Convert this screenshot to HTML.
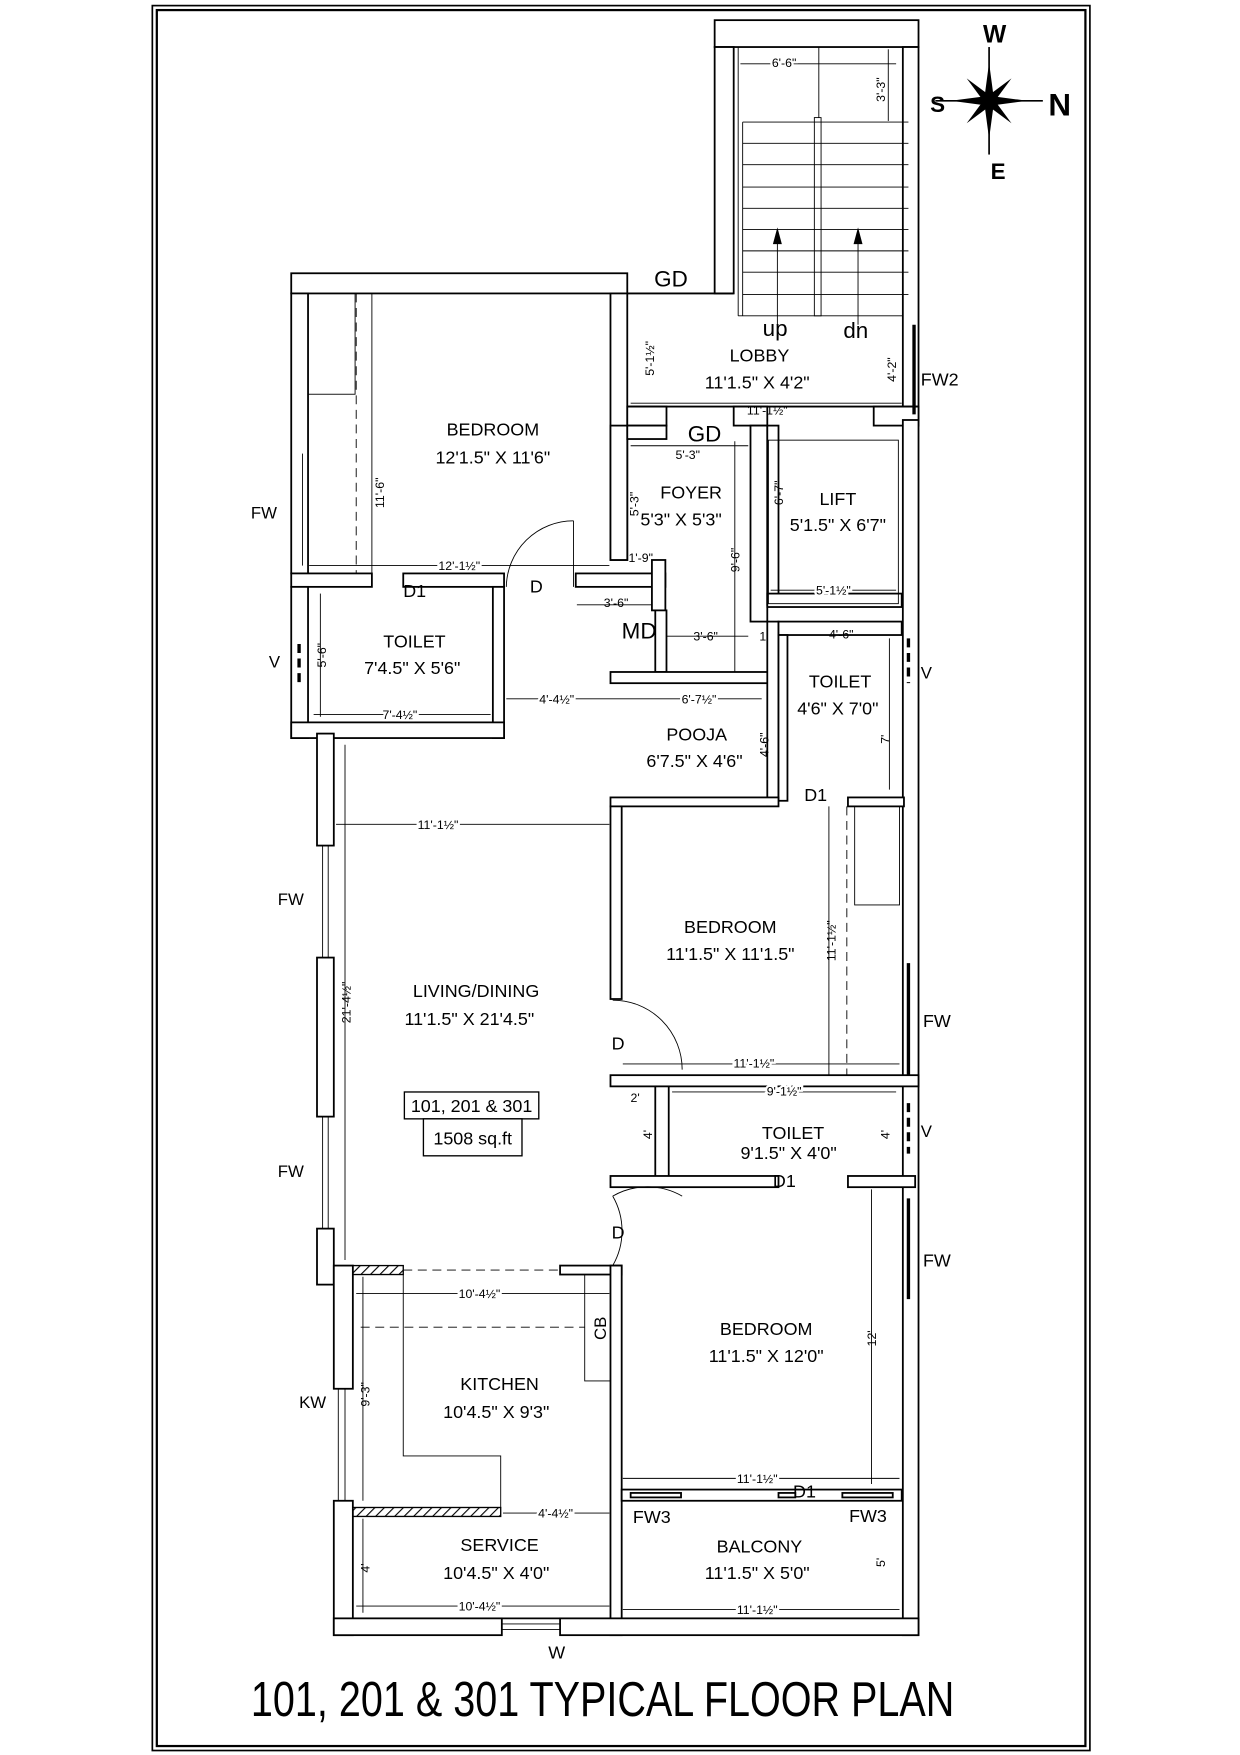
<!DOCTYPE html>
<html><head><meta charset="utf-8"><style>
html,body{margin:0;padding:0;background:#fff}
svg{display:block}
text{font-family:"Liberation Sans Narrow","Liberation Sans",sans-serif;fill:#000}
.w{fill:#fff;stroke:#000;stroke-width:1.6}
.l{stroke:#000;stroke-width:1.6;fill:none}
.t{stroke:#000;stroke-width:0.8;fill:none}
.d{stroke:#000;stroke-width:0.8;fill:none;stroke-dasharray:8 5}
.lb{font-size:16px;text-anchor:middle}
.dm{font-size:11px;text-anchor:middle}
</style></head><body>
<svg width="1240" height="1755" viewBox="0 0 1107 1567" preserveAspectRatio="none" xmlns="http://www.w3.org/2000/svg">
<defs><pattern id="h" width="6" height="6" patternUnits="userSpaceOnUse" patternTransform="rotate(45)"><line x1="0" y1="0" x2="0" y2="6" stroke="#000" stroke-width="2"/></pattern></defs>
<!-- border -->
<rect x="136" y="5" width="837" height="1558" fill="none" stroke="#000" stroke-width="1.5"/>
<rect x="140" y="9" width="829" height="1550" fill="none" stroke="#000" stroke-width="2"/>

<!-- Stair -->
<rect class="w" x="638" y="18" width="182" height="24"/>
<rect class="w" x="638" y="42" width="17" height="220"/>
<rect class="w" x="806" y="42" width="14" height="333"/>
<g class="t">
<line x1="659" y1="42" x2="659" y2="282"/>
<line x1="659" y1="282" x2="806" y2="282"/>
<line x1="663" y1="109" x2="811" y2="109"/><line x1="663" y1="128" x2="811" y2="128"/>
<line x1="663" y1="147" x2="811" y2="147"/><line x1="663" y1="167" x2="811" y2="167"/>
<line x1="663" y1="186" x2="811" y2="186"/><line x1="663" y1="205" x2="811" y2="205"/>
<line x1="663" y1="224" x2="811" y2="224"/><line x1="663" y1="243" x2="811" y2="243"/>
<line x1="663" y1="263" x2="811" y2="263"/>
<line x1="663" y1="109" x2="663" y2="282"/>
<rect x="727" y="105" width="6" height="177"/>
<line x1="731" y1="42" x2="731" y2="105"/>
<line x1="694" y1="210" x2="694" y2="290"/><line x1="766" y1="210" x2="766" y2="290"/>
<line x1="661" y1="57" x2="800" y2="57"/>
<line x1="793" y1="44" x2="793" y2="108"/>
</g>
<polygon points="694,203 690,218 698,218"/><polygon points="766,203 762,218 770,218"/>
<text x="692" y="300" font-size="20" text-anchor="middle">up</text>
<text x="764" y="302" font-size="20" text-anchor="middle">dn</text>
<text x="700" y="60" class="dm" style="paint-order:stroke;stroke:#fff;stroke-width:4">6'-6"</text>
<text x="790" y="80" class="dm" transform="rotate(-90 790 80)" style="paint-order:stroke;stroke:#fff;stroke-width:4">3'-3"</text>

<!-- compass -->
<g transform="translate(883,90)">
<polygon points="0,-34 4,-4 34,0 4,4 0,34 -4,4 -34,0 -4,-4" fill="#000"/>
<polygon points="-20,-20 3,-3 20,20 -3,3" fill="#000"/><polygon points="20,-20 3,3 -20,20 -3,-3" fill="#000"/>
<line x1="-48" y1="0" x2="48" y2="0" stroke="#000" stroke-width="1.5"/>
<line x1="0" y1="-48" x2="0" y2="48" stroke="#000" stroke-width="1.5"/>
</g>
<text x="888" y="38" font-size="22" font-weight="bold" text-anchor="middle">W</text>
<text x="891" y="160" font-size="20" font-weight="bold" text-anchor="middle">E</text>
<text x="837" y="100" font-size="20" font-weight="bold" text-anchor="middle">S</text>
<text x="946" y="103" font-size="28" font-weight="bold" text-anchor="middle">N</text>

<!-- Bedroom 1 -->
<rect class="w" x="260" y="244" width="300" height="18"/>
<rect class="w" x="260" y="262" width="15" height="250"/>
<rect class="w" x="545" y="262" width="15" height="238"/>
<line class="t" x1="270" y1="405" x2="270" y2="505"/>
<rect class="t" x="275" y="262" width="42" height="90"/>
<line class="d" x1="318" y1="262" x2="318" y2="512"/>
<line class="t" x1="332" y1="262" x2="332" y2="512"/>
<text x="440" y="389" class="lb">BEDROOM</text>
<text x="440" y="414" class="lb">12'1.5" X 11'6"</text>
<text x="343" y="440" class="dm" transform="rotate(-90 343 440)">11'-6"</text>
<line class="t" x1="276" y1="505" x2="544" y2="505"/><text x="410" y="509" class="dm" style="paint-order:stroke;stroke:#fff;stroke-width:4">12'-1½"</text>
<text x="224" y="463" font-size="15">FW</text>
<rect class="w" x="260" y="512" width="72" height="12"/>
<rect class="w" x="360" y="512" width="90" height="12"/>
<rect class="w" x="514" y="512" width="80" height="12"/>
<path class="t" d="M512,465 A60,60 0 0 0 452,524"/><line class="t" x1="512" y1="465" x2="512" y2="524"/>
<text x="360" y="533" font-size="16">D1</text>
<text x="473" y="529" font-size="16">D</text>
<rect class="w" x="260" y="524" width="15" height="135"/>
<rect class="w" x="440" y="524" width="10" height="135"/>
<rect class="w" x="260" y="645" width="190" height="14"/>
<text x="370" y="578" class="lb">TOILET</text>
<text x="368" y="602" class="lb">7'4.5" X 5'6"</text>
<text x="291" y="585" class="dm" transform="rotate(-90 291 585)">5'-6"</text>
<line class="t" x1="286" y1="530" x2="286" y2="640"/>
<line class="t" x1="280" y1="638" x2="438" y2="638"/><text x="357" y="642" class="dm" style="paint-order:stroke;stroke:#fff;stroke-width:4">7'-4½"</text>
<text x="240" y="596" font-size="15">V</text>
<line x1="267" y1="575" x2="267" y2="612" stroke="#000" stroke-width="3" stroke-dasharray="8 5"/>

<!-- Lobby -->
<line class="l" x1="560" y1="262" x2="655" y2="262"/>
<rect class="w" x="560" y="363" width="35" height="17"/>
<rect class="w" x="655" y="363" width="30" height="17"/>
<rect class="w" x="780" y="363" width="40" height="17"/>
<line class="l" x1="560" y1="363" x2="820" y2="363"/>
<line x1="816" y1="290" x2="816" y2="370" stroke="#000" stroke-width="3"/>
<text x="584" y="256" font-size="20">GD</text>
<text x="678" y="323" class="lb">LOBBY</text>
<text x="676" y="347" class="lb">11'1.5" X 4'2"</text>
<text x="584" y="320" class="dm" transform="rotate(-90 584 320)">5'-1½"</text>
<text x="800" y="330" class="dm" transform="rotate(-90 800 330)">4'-2"</text>
<line class="t" x1="563" y1="360" x2="805" y2="360"/><text x="685" y="370" class="dm">11'-1½"</text>
<text x="822" y="344" font-size="16">FW2</text>

<!-- Foyer -->
<rect class="w" x="545" y="380" width="15" height="120"/>
<rect class="w" x="560" y="380" width="35" height="12"/>
<text x="614" y="394" font-size="20">GD</text>
<rect class="w" x="582" y="500" width="12" height="45"/>
<rect class="w" x="670" y="380" width="15" height="175"/>
<text x="617" y="445" class="lb">FOYER</text>
<text x="608" y="469" class="lb">5'3" X 5'3"</text>
<line class="t" x1="563" y1="398" x2="668" y2="398"/><text x="614" y="410" class="dm">5'-3"</text>
<text x="570" y="450" class="dm" transform="rotate(-90 570 450)">5'-3"</text>
<line class="t" x1="656" y1="394" x2="656" y2="604"/>
<text x="660" y="500" class="dm" transform="rotate(-90 660 500)">9'-6"</text>
<text x="572" y="502" class="dm">1'-9"</text>
<line class="t" x1="515" y1="540" x2="582" y2="540"/><text x="550" y="542" class="dm">3'-6"</text>
<text x="555" y="570" font-size="20">MD</text>
<line class="t" x1="594" y1="568" x2="668" y2="568"/><text x="630" y="572" class="dm">3'-6"</text><text x="682" y="572" class="dm">1'</text>
<rect class="w" x="585" y="545" width="10" height="55"/>

<!-- Lift -->
<rect class="w" x="685" y="380" width="10" height="160"/>
<rect class="w" x="685" y="530" width="120" height="12"/>
<rect class="t" x="686" y="393" width="116" height="146"/>
<text x="748" y="451" class="lb">LIFT</text>
<text x="748" y="474" class="lb">5'1.5" X 6'7"</text>
<text x="699" y="440" class="dm" transform="rotate(-90 699 440)">6'-7"</text>
<line class="t" x1="688" y1="527" x2="800" y2="527"/><text x="744" y="531" class="dm" style="paint-order:stroke;stroke:#fff;stroke-width:4">5'-1½"</text>
<rect class="w" x="806" y="375" width="14" height="1085"/>

<!-- Pooja -->
<rect class="w" x="545" y="600" width="150" height="10"/>
<rect class="w" x="685" y="555" width="10" height="160"/>
<line class="t" x1="452" y1="624" x2="680" y2="624"/>
<text x="497" y="628" class="dm" style="paint-order:stroke;stroke:#fff;stroke-width:4">4'-4½"</text>
<text x="624" y="628" class="dm" style="paint-order:stroke;stroke:#fff;stroke-width:4">6'-7½"</text>
<text x="622" y="661" class="lb">POOJA</text>
<text x="620" y="685" class="lb">6'7.5" X 4'6"</text>
<text x="686" y="665" class="dm" transform="rotate(-90 686 665)">4'-6"</text>

<!-- Toilet 2 -->
<rect class="w" x="695" y="555" width="110" height="12"/>
<rect class="w" x="695" y="567" width="8" height="148"/>
<text x="750" y="614" class="lb">TOILET</text>
<text x="748" y="638" class="lb">4'6" X 7'0"</text>
<text x="751" y="570" class="dm">4'-6"</text>
<line class="t" x1="794" y1="570" x2="794" y2="705"/><text x="794" y="660" class="dm" transform="rotate(-90 794 660)">7'</text>
<text x="822" y="606" font-size="15">V</text>
<line x1="811" y1="570" x2="811" y2="610" stroke="#000" stroke-width="3" stroke-dasharray="8 5"/>
<text x="718" y="715" font-size="16">D1</text>

<!-- Bedroom 2 -->
<rect class="w" x="545" y="712" width="150" height="8"/>
<rect class="w" x="757" y="712" width="50" height="8"/>
<rect class="w" x="545" y="720" width="10" height="172"/>
<line class="t" x1="740" y1="720" x2="740" y2="960"/>
<line class="d" x1="756" y1="720" x2="756" y2="960"/>
<rect class="t" x="763" y="720" width="40" height="88"/>
<text x="652" y="833" class="lb">BEDROOM</text>
<text x="652" y="857" class="lb">11'1.5" X 11'1.5"</text>
<text x="746" y="840" class="dm" transform="rotate(-90 746 840)">11'-1½"</text>
<line class="t" x1="300" y1="736" x2="544" y2="736"/><text x="391" y="740" class="dm" style="paint-order:stroke;stroke:#fff;stroke-width:4">11'-1½"</text>
<line class="t" x1="556" y1="950" x2="803" y2="950"/><text x="673" y="953" class="dm" style="paint-order:stroke;stroke:#fff;stroke-width:4">11'-1½"</text>
<path class="t" d="M547,893 A62,62 0 0 1 609,955"/>
<text x="546" y="937" font-size="16">D</text>
<line x1="811" y1="860" x2="811" y2="960" stroke="#000" stroke-width="3"/>
<text x="824" y="917" font-size="16">FW</text>

<!-- Toilet 3 -->
<rect class="w" x="545" y="960" width="275" height="10"/>
<rect class="w" x="585" y="970" width="12" height="88"/>
<rect class="w" x="545" y="1050" width="150" height="10"/>
<rect class="w" x="757" y="1050" width="60" height="10"/>
<text x="708" y="1017" class="lb" font-size="15">TOILET</text>
<text x="704" y="1035" class="lb" font-size="15">9'1.5" X 4'0"</text>
<line class="t" x1="600" y1="975" x2="800" y2="975"/><text x="700" y="978" class="dm" style="paint-order:stroke;stroke:#fff;stroke-width:4">9'-1½"</text>
<text x="567" y="984" class="dm">2'</text>
<text x="582" y="1013" class="dm" transform="rotate(-90 582 1013)">4'</text>
<text x="794" y="1013" class="dm" transform="rotate(-90 794 1013)">4'</text>
<text x="690" y="1060" font-size="16">D1</text>
<text x="822" y="1015" font-size="15">V</text>
<line x1="811" y1="985" x2="811" y2="1030" stroke="#000" stroke-width="3" stroke-dasharray="8 5"/>

<!-- Living -->
<rect class="w" x="283" y="655" width="15" height="100"/>
<rect class="w" x="283" y="855" width="15" height="142"/>
<rect class="w" x="283" y="1097" width="15" height="50"/>
<line class="t" x1="288" y1="755" x2="288" y2="855"/><line class="t" x1="293" y1="755" x2="293" y2="855"/>
<line class="t" x1="288" y1="997" x2="288" y2="1097"/><line class="t" x1="293" y1="997" x2="293" y2="1097"/>
<line class="t" x1="308" y1="665" x2="308" y2="1125"/>
<text x="313" y="895" class="dm" transform="rotate(-90 313 895)">21'-4½"</text>
<text x="248" y="808" font-size="15">FW</text>
<text x="248" y="1051" font-size="15">FW</text>
<text x="425" y="890" class="lb">LIVING/DINING</text>
<text x="419" y="915" class="lb">11'1.5" X 21'4.5"</text>
<rect x="361" y="975" width="120" height="24" fill="#fff" stroke="#000" stroke-width="1.2"/>
<rect x="378" y="999" width="88" height="33" fill="#fff" stroke="#000" stroke-width="1.2"/>
<text x="421" y="993" class="lb">101, 201 &amp; 301</text>
<text x="422" y="1022" class="lb">1508 sq.ft</text>
<path class="t" d="M547,1068 A62,62 0 0 1 547,1130 M547,1068 A62,62 0 0 1 609,1068"/>
<text x="546" y="1106" font-size="16">D</text>
<line class="d" x1="360" y1="1134" x2="500" y2="1134"/>

<!-- Kitchen -->
<rect class="w" x="298" y="1130" width="17" height="110"/>
<rect class="w" x="298" y="1340" width="17" height="120"/>
<line class="t" x1="302" y1="1240" x2="302" y2="1340"/><line class="t" x1="308" y1="1240" x2="308" y2="1340"/>
<text x="267" y="1257" font-size="15">KW</text>
<rect x="315" y="1130" width="45" height="8" fill="url(#h)" stroke="#000" stroke-width="1.2"/>
<rect class="w" x="500" y="1130" width="55" height="8"/>
<rect class="w" x="545" y="1130" width="10" height="330"/>
<rect class="t" x="522" y="1138" width="23" height="95"/>
<text x="541" y="1186" font-size="15" transform="rotate(-90 541 1186)" text-anchor="middle">CB</text>
<line class="d" x1="322" y1="1185" x2="522" y2="1185"/>
<path class="t" d="M360,1138 V1300 H447 V1346"/>
<line class="t" x1="318" y1="1155" x2="544" y2="1155"/><text x="428" y="1159" class="dm" style="paint-order:stroke;stroke:#fff;stroke-width:4">10'-4½"</text>
<line class="t" x1="324" y1="1140" x2="324" y2="1340"/><text x="330" y="1245" class="dm" transform="rotate(-90 330 1245)">9'-3"</text>
<text x="446" y="1241" class="lb">KITCHEN</text>
<text x="443" y="1266" class="lb">10'4.5" X 9'3"</text>
<rect x="315" y="1346" width="132" height="8" fill="url(#h)" stroke="#000" stroke-width="1.2"/>
<line class="t" x1="449" y1="1351" x2="544" y2="1351"/><text x="496" y="1355" class="dm" style="paint-order:stroke;stroke:#fff;stroke-width:4">4'-4½"</text>
<text x="446" y="1385" class="lb">SERVICE</text>
<text x="443" y="1410" class="lb">10'4.5" X 4'0"</text>
<line class="t" x1="324" y1="1356" x2="324" y2="1440"/><text x="330" y="1400" class="dm" transform="rotate(-90 330 1400)">4'</text>
<line class="t" x1="318" y1="1434" x2="544" y2="1434"/><text x="428" y="1438" class="dm" style="paint-order:stroke;stroke:#fff;stroke-width:4">10'-4½"</text>
<line class="l" x1="315" y1="1445" x2="545" y2="1445"/>
<rect class="w" x="298" y="1445" width="150" height="15"/>
<rect class="w" x="500" y="1445" width="320" height="15"/>
<line class="t" x1="448" y1="1450" x2="500" y2="1450"/><line class="t" x1="448" y1="1455" x2="500" y2="1455"/>
<text x="497" y="1481" class="lb" font-size="14">W</text>

<!-- Bedroom 3 -->
<line x1="811" y1="1070" x2="811" y2="1160" stroke="#000" stroke-width="3"/>
<text x="824" y="1131" font-size="16">FW</text>
<text x="684" y="1192" class="lb">BEDROOM</text>
<text x="684" y="1216" class="lb">11'1.5" X 12'0"</text>
<line class="t" x1="778" y1="1062" x2="778" y2="1325"/><text x="782" y="1195" class="dm" transform="rotate(-90 782 1195)">12'</text>
<line class="t" x1="556" y1="1320" x2="803" y2="1320"/><text x="676" y="1324" class="dm" style="paint-order:stroke;stroke:#fff;stroke-width:4">11'-1½"</text>
<rect class="w" x="555" y="1330" width="250" height="10"/>
<rect class="w" x="563" y="1333" width="45" height="4"/>
<rect class="w" x="695" y="1333" width="15" height="4"/>
<rect class="w" x="752" y="1333" width="45" height="4"/>
<text x="708" y="1337" font-size="16">D1</text>

<!-- Balcony -->
<text x="565" y="1360" font-size="16">FW3</text>
<text x="758" y="1359" font-size="16">FW3</text>
<text x="678" y="1386" class="lb">BALCONY</text>
<text x="676" y="1410" class="lb">11'1.5" X 5'0"</text>
<text x="790" y="1395" class="dm" transform="rotate(-90 790 1395)">5'</text>
<line class="t" x1="556" y1="1437" x2="803" y2="1437"/><text x="676" y="1441" class="dm" style="paint-order:stroke;stroke:#fff;stroke-width:4">11'-1½"</text>

<text x="538" y="1532" font-size="44" text-anchor="middle" textLength="628" lengthAdjust="spacingAndGlyphs">101, 201 &amp; 301 TYPICAL  FLOOR PLAN</text>
</svg>
</body></html>
